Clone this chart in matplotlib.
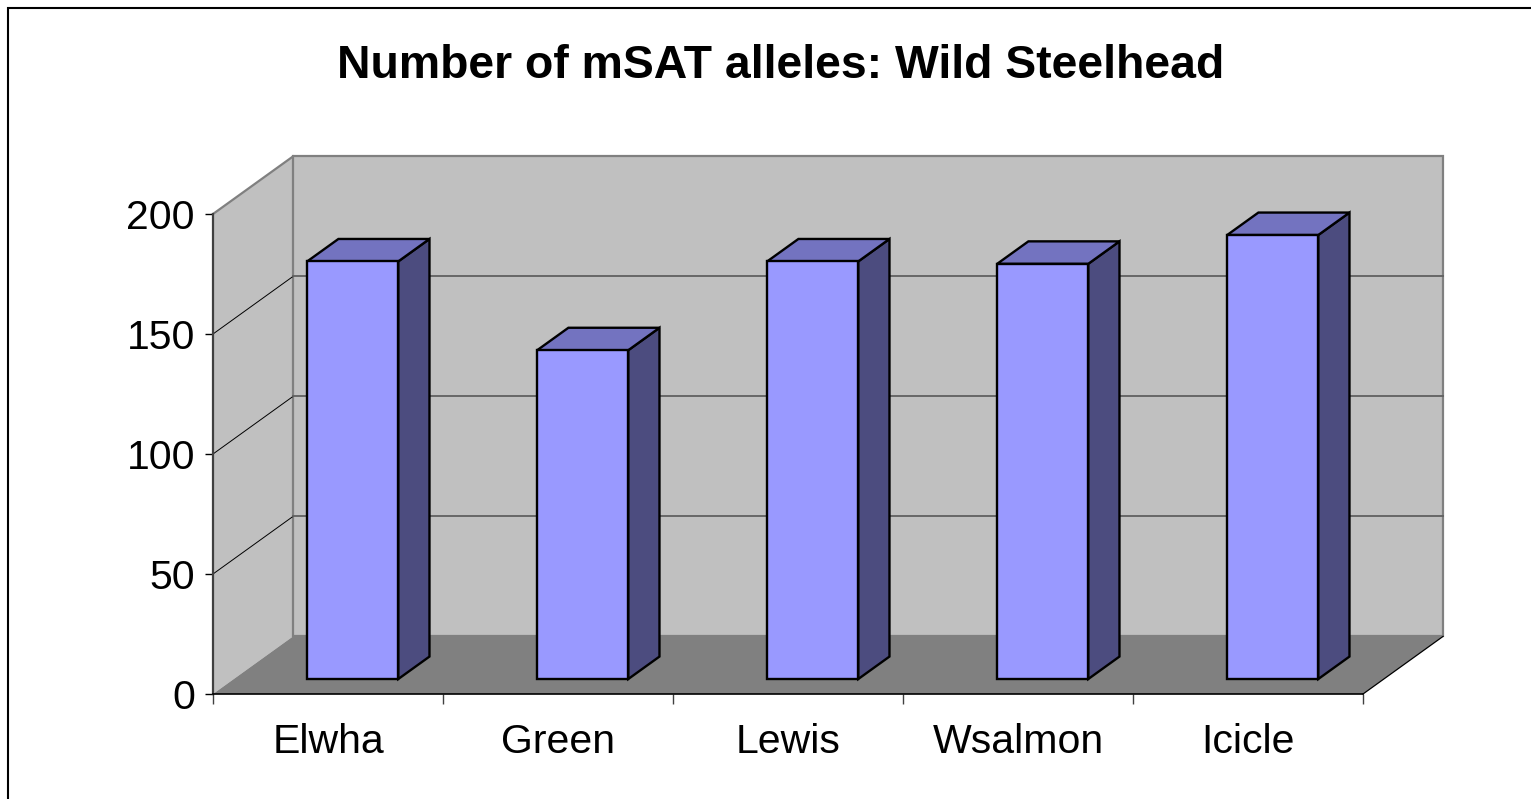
import matplotlib.pyplot as plt
from matplotlib.patches import Polygon, Rectangle

# data
rivers = ['Elwha', 'Green', 'Lewis', 'Wsalmon', 'Icicle']
alleles = [174, 137, 174, 173, 185]
yticks = [0, 50, 100, 150, 200]

# oblique "3D" look: depth 0 = front plane, 1 = back wall
kx, ky = 0.348, 24.0      # shift of the back wall in data units
d0, d1 = 0.26, 0.65       # depth range of the bars
half_w = 0.198
shift = 0.017

plt.rcParams['font.family'] = ['Liberation Sans', 'DejaVu Sans']

fig = plt.figure(figsize=(15.31, 7.99), dpi=100)
fig.patches.append(Rectangle((8 / 1531, -0.1), 1.2, 1 - 8 / 799 + 0.1,
                             transform=fig.transFigure, fill=False,
                             edgecolor='black', linewidth=1.5))

ax = fig.add_axes([213 / 1531, 105 / 799, 1150 / 1531, 480 / 799])
ax.set_xlim(-0.5, len(rivers) - 0.5)
ax.set_ylim(0, 200)
ax.patch.set_visible(False)


def P(x, y, d):
    return (x + d * kx, y + d * ky)


x0, x1 = -0.5, len(rivers) - 0.5
# walls and floor
ax.add_patch(Polygon([P(x0, 0, 0), P(x0, 0, 1), P(x0, 200, 1), P(x0, 200, 0)],
                     facecolor='#C0C0C0', edgecolor='none', clip_on=False, zorder=0))
ax.add_patch(Polygon([P(x0, 0, 1), P(x1, 0, 1), P(x1, 200, 1), P(x0, 200, 1)],
                     facecolor='#C0C0C0', edgecolor='#808080', linewidth=1.6,
                     clip_on=False, zorder=0))
ax.add_patch(Polygon([P(x0, 0, 0), P(x1, 0, 0), P(x1, 0, 1), P(x0, 0, 1)],
                     facecolor='#808080', edgecolor='none', clip_on=False, zorder=1))
ax.plot(*zip(P(x0, 200, 0), P(x0, 200, 1)), color='#808080', lw=1.6,
        clip_on=False, zorder=1)
ax.plot(*zip(P(x1, 0, 0), P(x1, 0, 1)), color='black', lw=0.9,
        clip_on=False, zorder=1)

# gridlines
for v in yticks[1:-1]:
    ax.plot(*zip(P(x0, v, 0), P(x0, v, 1)), color='black', lw=0.7,
            clip_on=False, zorder=1)
    ax.plot(*zip(P(x0, v, 1), P(x1, v, 1)), color='#606060', lw=1.3,
            clip_on=False, zorder=1)

# bars
for i, v in enumerate(alleles):
    xl, xr = i + shift - half_w, i + shift + half_w
    front = [P(xl, 0, d0), P(xr, 0, d0), P(xr, v, d0), P(xl, v, d0)]
    top = [P(xl, v, d0), P(xr, v, d0), P(xr, v, d1), P(xl, v, d1)]
    side = [P(xr, 0, d0), P(xr, 0, d1), P(xr, v, d1), P(xr, v, d0)]
    for poly, col in [(side, '#4C4C7F'), (top, '#7373C0'), (front, '#9999FF')]:
        ax.add_patch(Polygon(poly, facecolor=col, edgecolor='black',
                             linewidth=1.7, joinstyle='miter',
                             clip_on=False, zorder=3))

# axes
for s in ['top', 'right']:
    ax.spines[s].set_visible(False)
ax.spines['left'].set_color('#404040')
ax.spines['left'].set_linewidth(1.6)
ax.spines['bottom'].set_color('black')
ax.spines['bottom'].set_linewidth(1.2)
ax.spines['left'].set_zorder(2)
ax.spines['bottom'].set_zorder(2)

ax.set_yticks(yticks)
ax.tick_params(axis='y', length=6, width=1, color='black', labelsize=29.5, pad=7)
ax.set_xticks(range(len(rivers)))
ax.set_xticklabels(rivers)
ax.set_xticks([i - 0.5 for i in range(len(rivers) + 1)], minor=True)
ax.tick_params(axis='x', which='major', length=0, labelsize=29.5, pad=21)
ax.tick_params(axis='x', which='minor', length=7, width=1, color='#404040')

fig.text(781 / 1531, 1 - 66 / 799, 'Number of mSAT alleles: Wild Steelhead',
         ha='center', va='center', fontsize=33.4, fontweight='bold')

fig.savefig('out.png', dpi=100)
